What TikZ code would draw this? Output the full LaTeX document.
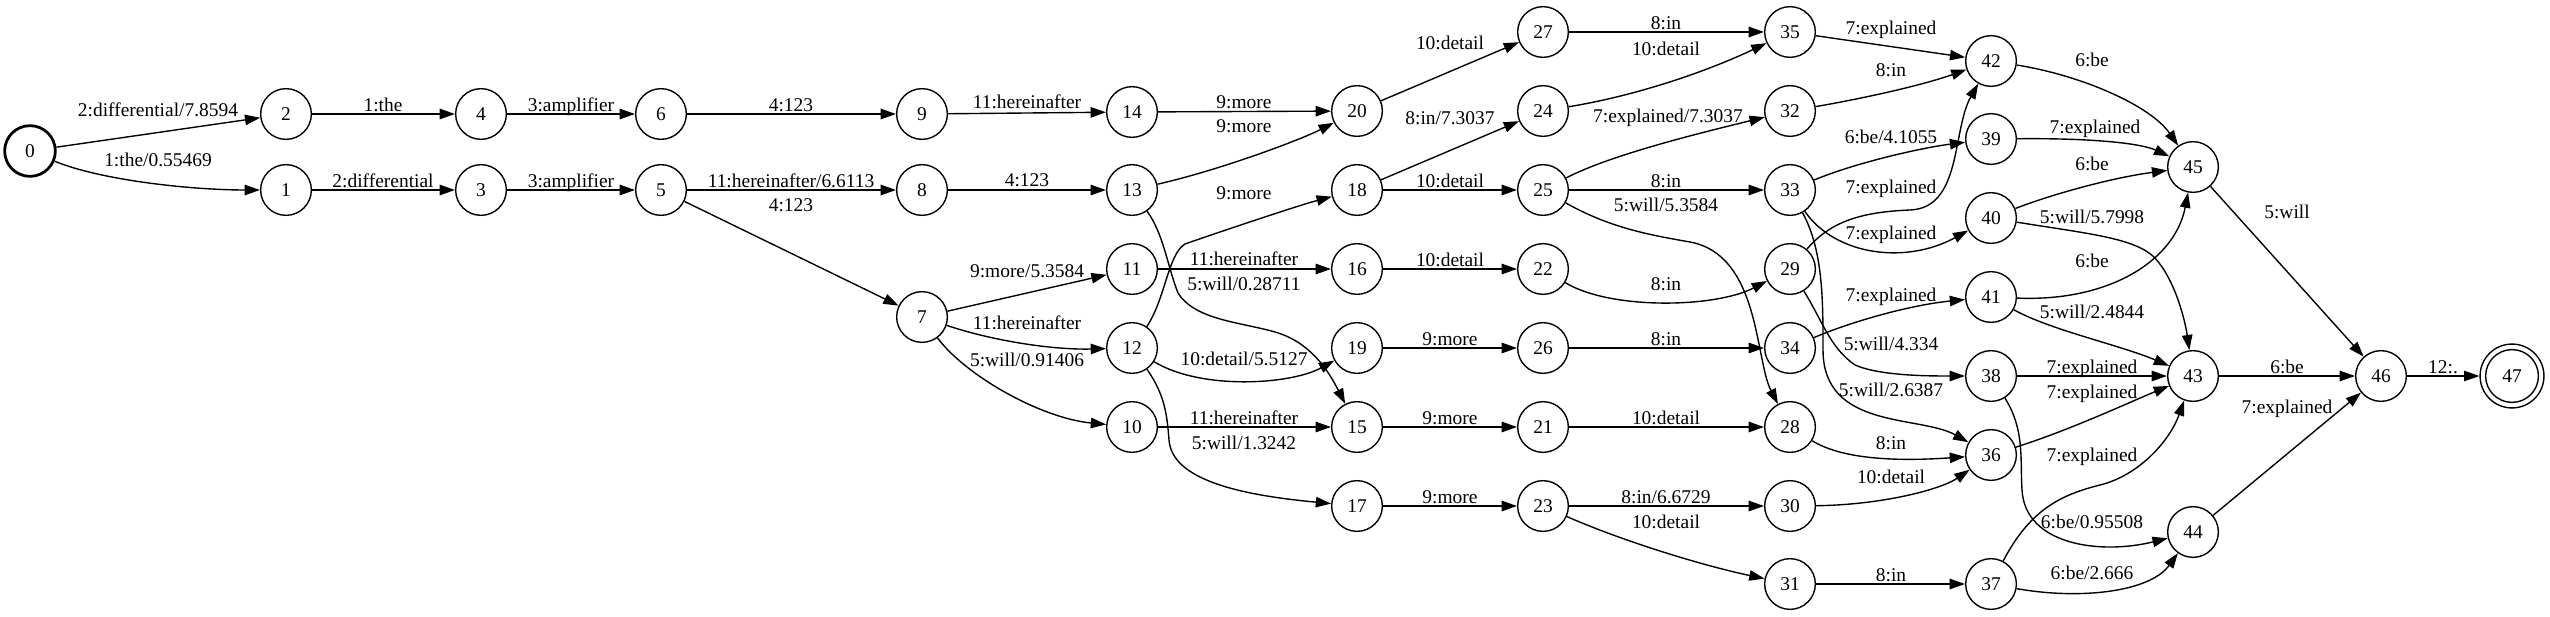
\documentclass[tikz,border=0pt]{standalone}
\usepackage{fontspec}
\setmainfont{Liberation Serif}
\usetikzlibrary{arrows.meta}
\begin{document}
\begin{tikzpicture}[x=0.72pt,y=-0.72pt,
  st/.style={circle,draw,line width=1pt,minimum size=36.5pt,inner sep=0pt,font=\fontsize{14}{16}\selectfont},
  lbl/.style={inner sep=0pt,text height=9.4pt,text depth=0pt,font=\fontsize{14}{16}\selectfont},
  tr/.style={draw,line width=1pt,-{Triangle[length=11pt,width=7.5pt]}}]
\useasboundingbox (0,0) rectangle (2550,617);
% states
\node[st,line width=2pt] (n0) at (30,151) {0};
\node[st] (n1) at (286,190) {1};
\node[st] (n2) at (286,114) {2};
\node[st] (n3) at (481,190) {3};
\node[st] (n4) at (481,114) {4};
\node[st] (n5) at (661,190) {5};
\node[st] (n6) at (661,114) {6};
\node[st] (n7) at (922,317) {7};
\node[st] (n8) at (922,190) {8};
\node[st] (n9) at (922,114) {9};
\node[st] (n10) at (1132,427) {10};
\node[st] (n11) at (1132,269) {11};
\node[st] (n12) at (1132,348) {12};
\node[st] (n13) at (1132,190) {13};
\node[st] (n14) at (1132,112) {14};
\node[st] (n15) at (1357,427) {15};
\node[st] (n16) at (1357,269) {16};
\node[st] (n17) at (1357,506) {17};
\node[st] (n18) at (1357,190) {18};
\node[st] (n19) at (1357,348) {19};
\node[st] (n20) at (1357,111) {20};
\node[st] (n21) at (1543,427) {21};
\node[st] (n22) at (1543,269) {22};
\node[st] (n23) at (1543,506) {23};
\node[st] (n24) at (1543,111) {24};
\node[st] (n25) at (1543,190) {25};
\node[st] (n26) at (1543,348) {26};
\node[st] (n27) at (1543,32) {27};
\node[st] (n28) at (1790,427) {28};
\node[st] (n29) at (1790,269) {29};
\node[st] (n30) at (1790,506) {30};
\node[st] (n31) at (1790,584) {31};
\node[st] (n32) at (1790,111) {32};
\node[st] (n33) at (1790,190) {33};
\node[st] (n34) at (1790,348) {34};
\node[st] (n35) at (1790,32) {35};
\node[st] (n36) at (1991,455) {36};
\node[st] (n37) at (1991,584) {37};
\node[st] (n38) at (1991,376) {38};
\node[st] (n39) at (1991,139) {39};
\node[st] (n40) at (1991,218) {40};
\node[st] (n41) at (1991,297) {41};
\node[st] (n42) at (1991,61) {42};
\node[st] (n43) at (2193,376) {43};
\node[st] (n44) at (2193,532) {44};
\node[st] (n45) at (2193,167) {45};
\node[st] (n46) at (2381,376) {46};
\node[st,minimum size=46pt] (n47) at (2512,376) {47};
\draw[line width=1pt] (n47.center) circle[radius=19pt];
% transitions
\draw[tr] (n0) -- (n2) node[lbl] at (158,110) {2:differential/7.8594};
\draw[tr] (n0) .. controls (100,180) and (190,190) .. (n1) node[lbl] at (158,160) {1:the/0.55469};
\draw[tr] (n2) -- (n4) node[lbl] at (383,105) {1:the};
\draw[tr] (n1) -- (n3) node[lbl] at (383,181) {2:differential};
\draw[tr] (n4) -- (n6) node[lbl] at (571,105) {3:amplifier};
\draw[tr] (n3) -- (n5) node[lbl] at (571,181) {3:amplifier};
\draw[tr] (n6) -- (n9) node[lbl] at (791,105) {4:123};
\draw[tr] (n5) -- (n8) node[lbl] at (791,181) {11:hereinafter/6.6113};
\draw[tr] (n5) -- (n7) node[lbl] at (791,205) {4:123};
\draw[tr] (n9) -- (n14) node[lbl] at (1027,102) {11:hereinafter};
\draw[tr] (n8) -- (n13) node[lbl] at (1027,180) {4:123};
\draw[tr] (n14) -- (n20) node[lbl] at (1244,102) {9:more};
\draw[tr] (n13) .. controls (1220,170) and (1300,140) .. (n20) node[lbl] at (1244,126) {9:more};
\draw[tr] (n7) -- (n11) node[lbl] at (1027,271) {9:more/5.3584};
\draw[tr] (n7) .. controls (990,340) and (1050,350) .. (n12) node[lbl] at (1027,323) {11:hereinafter};
\draw[tr] (n7) .. controls (965,375) and (1040,418) .. (n10) node[lbl] at (1027,360) {5:will/0.91406};
\draw[tr] (n12) .. controls (1165,300) and (1168,254) .. (1185,244) .. controls (1225,230) and (1300,205) .. (n18) node[lbl] at (1244,193) {9:more};
\draw[tr] (n11) -- (n16) node[lbl] at (1244,259) {11:hereinafter};
\draw[tr] (n13) .. controls (1164,235) and (1167,265) .. (1178,293) .. controls (1195,320) and (1240,322) .. (1275,332) .. controls (1310,342) and (1328,370) .. (n15) node[lbl] at (1244,284) {5:will/0.28711};
\draw[tr] (n12) .. controls (1200,390) and (1290,385) .. (n19) node[lbl] at (1244,359) {10:detail/5.5127};
\draw[tr] (n10) -- (n15) node[lbl] at (1244,418) {11:hereinafter};
\draw[tr] (n12) .. controls (1165,395) and (1167,415) .. (1169,440) .. controls (1172,480) and (1240,495) .. (n17) node[lbl] at (1244,443) {5:will/1.3242};
\draw[tr] (n20) -- (n27) node[lbl] at (1450,43) {10:detail};
\draw[tr] (n18) -- (n24) node[lbl] at (1450,118) {8:in/7.3037};
\draw[tr] (n18) -- (n25) node[lbl] at (1450,181) {10:detail};
\draw[tr] (n16) -- (n22) node[lbl] at (1450,260) {10:detail};
\draw[tr] (n19) -- (n26) node[lbl] at (1450,339) {9:more};
\draw[tr] (n15) -- (n21) node[lbl] at (1450,418) {9:more};
\draw[tr] (n17) -- (n23) node[lbl] at (1450,497) {9:more};
\draw[tr] (n27) -- (n35) node[lbl] at (1666,23) {8:in};
\draw[tr] (n24) .. controls (1640,95) and (1710,70) .. (n35) node[lbl] at (1666,49) {10:detail};
\draw[tr] (n25) .. controls (1610,155) and (1700,133) .. (n32) node[lbl] at (1668,116) {7:explained/7.3037};
\draw[tr] (n25) -- (n33) node[lbl] at (1666,181) {8:in};
\draw[tr] (n25) .. controls (1610,228) and (1650,235) .. (1690,242) .. controls (1760,255) and (1755,360) .. (n28) node[lbl] at (1666,205) {5:will/5.3584};
\draw[tr] (n22) .. controls (1610,310) and (1715,308) .. (n29) node[lbl] at (1666,284) {8:in};
\draw[tr] (n26) -- (n34) node[lbl] at (1666,339) {8:in};
\draw[tr] (n21) -- (n28) node[lbl] at (1666,418) {10:detail};
\draw[tr] (n23) -- (n30) node[lbl] at (1666,497) {8:in/6.6729};
\draw[tr] (n23) .. controls (1620,540) and (1700,565) .. (n31) node[lbl] at (1666,522) {10:detail};
\draw[tr] (n35) -- (n42) node[lbl] at (1891,28) {7:explained};
\draw[tr] (n32) .. controls (1860,99) and (1920,86) .. (n42) node[lbl] at (1891,70) {8:in};
\draw[tr] (n33) .. controls (1855,163) and (1920,148) .. (n39) node[lbl] at (1891,137) {6:be/4.1055};
\draw[tr] (n29) .. controls (1830,222) and (1860,212) .. (1910,210) .. controls (1962,208) and (1952,130) .. (n42) node[lbl] at (1891,187) {7:explained};
\draw[tr] (n33) .. controls (1835,255) and (1905,265) .. (n40) node[lbl] at (1891,233) {7:explained};
\draw[tr] (n34) .. controls (1850,322) and (1910,305) .. (n41) node[lbl] at (1891,295) {7:explained};
\draw[tr] (n29) .. controls (1822,320) and (1830,348) .. (1855,365) .. controls (1880,376) and (1930,376) .. (n38) node[lbl] at (1891,344) {5:will/4.334};
\draw[tr] (n33) .. controls (1823,250) and (1823,300) .. (1823,350) .. controls (1823,430) and (1920,415) .. (n36) node[lbl] at (1891,390) {5:will/2.6387};
\draw[tr] (n28) .. controls (1840,458) and (1890,462) .. (n36) node[lbl] at (1891,443) {8:in};
\draw[tr] (n30) .. controls (1880,505) and (1940,490) .. (n36) node[lbl] at (1891,477) {10:detail};
\draw[tr] (n31) -- (n37) node[lbl] at (1891,575) {8:in};
\draw[tr] (n42) .. controls (2080,75) and (2150,105) .. (n45) node[lbl] at (2092,60) {6:be};
\draw[tr] (n39) .. controls (2090,138) and (2140,143) .. (n45) node[lbl] at (2095,127) {7:explained};
\draw[tr] (n40) .. controls (2050,195) and (2110,178) .. (n45) node[lbl] at (2092,164) {6:be};
\draw[tr] (n40) .. controls (2090,234) and (2135,238) .. (2155,258) .. controls (2175,280) and (2185,320) .. (n43) node[lbl] at (2092,217) {5:will/5.7998};
\draw[tr] (n41) .. controls (2110,302) and (2175,260) .. (n45) node[lbl] at (2092,261) {6:be};
\draw[tr] (n41) .. controls (2050,330) and (2120,345) .. (n43) node[lbl] at (2092,312) {5:will/2.4844};
\draw[tr] (n38) -- (n43) node[lbl] at (2092,367) {7:explained};
\draw[tr] (n36) .. controls (2070,430) and (2130,402) .. (n43) node[lbl] at (2092,392) {7:explained};
\draw[tr] (n37) .. controls (2030,510) and (2060,495) .. (2100,485) .. controls (2140,475) and (2170,440) .. (n43) node[lbl] at (2092,455) {7:explained};
\draw[tr] (n38) .. controls (2025,430) and (2020,460) .. (2022,490) .. controls (2025,545) and (2100,555) .. (n44) node[lbl] at (2092,522) {6:be/0.95508};
\draw[tr] (n37) .. controls (2080,600) and (2150,592) .. (n44) node[lbl] at (2092,573) {6:be/2.666};
\draw[tr] (n45) -- (n46) node[lbl] at (2287,212) {5:will};
\draw[tr] (n43) -- (n46) node[lbl] at (2287,367) {6:be};
\draw[tr] (n44) -- (n46) node[lbl] at (2287,407) {7:explained};
\draw[tr] (n46) -- (n47) node[lbl] at (2443,367) {12:.};
\end{tikzpicture}
\end{document}
